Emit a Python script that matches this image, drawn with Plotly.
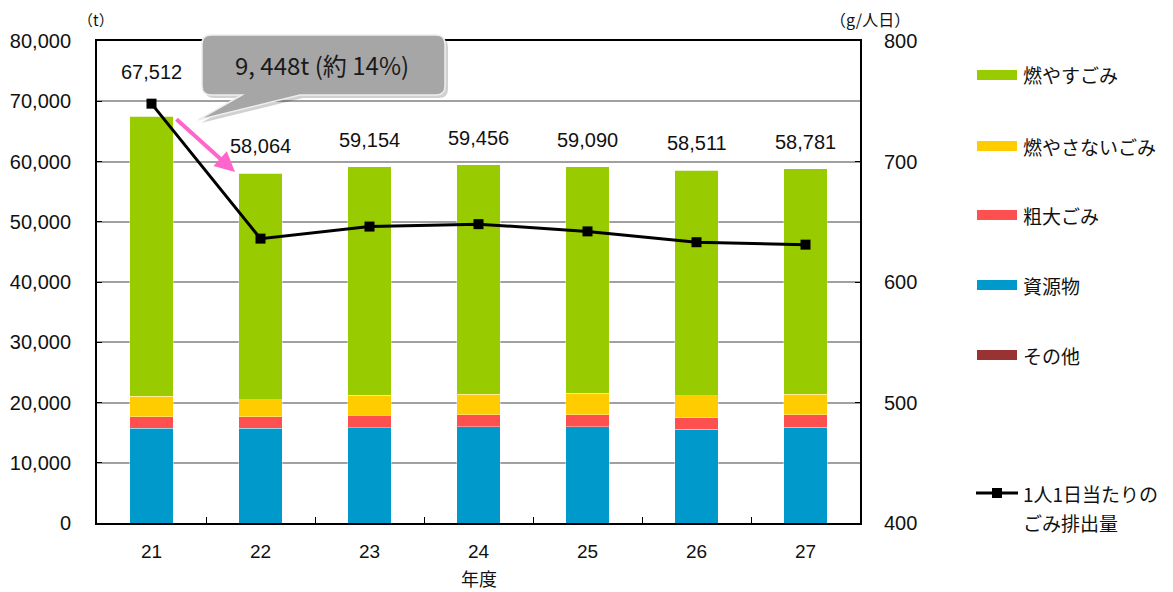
import plotly.graph_objects as go

years = ["21", "22", "23", "24", "25", "26", "27"]
moyasu = [46482, 37594, 37914, 38046, 37570, 37431, 37371]      # 燃やすごみ
moyasanai = [3390, 2830, 3370, 3430, 3540, 3600, 3480]           # 燃やさないごみ
sodai = [1950, 1950, 2070, 1990, 1990, 1930, 2050]                # 粗大ごみ
shigen = [15690, 15690, 15800, 15990, 15990, 15550, 15880]        # 資源物
sonota = [0, 0, 0, 0, 0, 0, 0]                                    # その他
totals = [67512, 58064, 59154, 59456, 59090, 58511, 58781]
total_labels = ["67,512", "58,064", "59,154", "59,456", "59,090", "58,511", "58,781"]
per_person = [748, 636, 646, 648, 642, 633, 631]                 # g/人日

FONT = "Liberation Sans, Arial, Noto Sans CJK JP, sans-serif"
JP = "Noto Sans CJK JP, Liberation Sans, sans-serif"

series = [
    ("資源物", shigen, "#0099cc"),
    ("粗大ごみ", sodai, "#ff5050"),
    ("燃やさないごみ", moyasanai, "#ffcc00"),
    ("燃やすごみ", moyasu, "#99cc00"),
    ("その他", sonota, "#993333"),
]

fig = go.Figure()
for name, vals, col in series:
    fig.add_trace(go.Bar(x=years, y=vals, name=name, marker=dict(color=col, line=dict(color="rgba(255,255,255,0.6)", width=0.6)),
                         showlegend=False))

fig.add_trace(go.Scatter(x=years, y=per_person, yaxis="y2", mode="lines+markers", name="1人1日当たりのごみ排出量",
                         line=dict(color="black", width=3), marker=dict(symbol="square", size=10, color="black"),
                         showlegend=False))

# plot area pixel geometry (page coordinates); the page body adds an 8px offset
OFF = 8
L, R, T, B = 97, 860, 41, 523
W, H = 1173 - OFF, 592 - OFF
def px(x):
    return (x - L) / (R - L)
def py(y):
    return (B - y) / (B - T)

def note(x, y, text, size=16, family=JP, xanchor="center"):
    return dict(x=px(x), y=py(y), xref="paper", yref="paper", text=text, showarrow=False,
                xanchor=xanchor, yanchor="middle", font=dict(family=family, size=size, color="#111111"))

annotations = []
for i, (tot, lab) in enumerate(zip(totals, total_labels)):
    annotations.append(dict(x=i, y=tot, xref="x", yref="y", text=lab, showarrow=False, yanchor="middle",
                            yshift=44 if i == 0 else 27, font=dict(family=FONT, size=20, color="#111111")))

annotations += [
    note(96, 20, "（t）", 15),
    note(870, 19, "（g/人日）", 16),
    note(479, 578, "年度", 18),
    # pink arrow
    dict(x=px(235), y=py(172), xref="paper", yref="paper", ax=-60, ay=-54, axref="pixel", ayref="pixel",
         text="", showarrow=True, arrowhead=2, arrowsize=1.0, arrowwidth=4, arrowcolor="#ff66cc"),
]
callout = note(322, 64, "9, 448t (約 14%)", 24)
callout["font"]["color"] = "#1a1a1a"
annotations.append(callout)

shapes = []
# callout bubble
def bubble(dx=0, dy=0):
    l, r, t, b = 202 + dx, 445 + dx, 35 + dy, 95 + dy
    rx, ry = 9, 9
    p = lambda x, y: f"{px(x):.5f},{py(y):.5f}"
    return ("M " + p(l + rx, t) + " L " + p(r - rx, t) + " Q " + p(r, t) + " " + p(r, t + ry) +
            " L " + p(r, b - ry) + " Q " + p(r, b) + " " + p(r - rx, b) +
            " L " + p(300 + dx, b) + " L " + p(198 + dx, 120 + dy) + " L " + p(242 + dx, b) +
            " L " + p(l + rx, b) + " Q " + p(l, b) + " " + p(l, b - ry) +
            " L " + p(l, t + ry) + " Q " + p(l, t) + " " + p(l + rx, t) + " Z")
shapes.append(dict(type="path", xref="paper", yref="paper", path=bubble(3, 3),
                   fillcolor="rgba(0,0,0,0.18)", line=dict(width=0), layer="above"))
shapes.append(dict(type="path", xref="paper", yref="paper", path=bubble(),
                   fillcolor="#a6a6a6", line=dict(color="#eeeeee", width=1.5), layer="above"))

# manual legend
leg_items = [("燃やすごみ", "#99cc00", 75), ("燃やさないごみ", "#ffcc00", 146), ("粗大ごみ", "#ff5050", 215),
             ("資源物", "#0099cc", 285), ("その他", "#993333", 355)]
for name, col, yy in leg_items:
    shapes.append(dict(type="rect", xref="paper", yref="paper", x0=px(977), x1=px(1017), y0=py(yy + 5), y1=py(yy - 5),
                       fillcolor=col, line=dict(width=0)))
    annotations.append(note(1021, yy, name, 19, xanchor="left"))
shapes.append(dict(type="line", xref="paper", yref="paper", x0=px(976), x1=px(1018), y0=py(493), y1=py(493),
                   line=dict(color="black", width=3)))
shapes.append(dict(type="rect", xref="paper", yref="paper", x0=px(992), x1=px(1002), y0=py(498), y1=py(488),
                   fillcolor="black", line=dict(width=0)))
annotations.append(note(1021, 493, "1人1日当たりの", 19, xanchor="left"))
annotations.append(note(1021, 522, "ごみ排出量", 19, xanchor="left"))

fig.update_layout(
    width=W, height=H,
    margin=dict(l=L - OFF, r=W - (R - OFF), t=T - OFF, b=H - (B - OFF), autoexpand=False),
    barmode="stack", bargap=0.6,
    plot_bgcolor="white", paper_bgcolor="white",
    showlegend=False,
    xaxis=dict(type="category", range=[-0.5, 6.5], automargin=False, showline=True, linecolor="black", linewidth=2,
               mirror=True, ticks="inside", tickson="boundaries", ticklen=6, tickcolor="black", tickangle=0,
               ticklabelstandoff=10,
               tickfont=dict(family=FONT, size=19, color="#111111"), showgrid=False),
    yaxis=dict(range=[0, 80000], dtick=10000, tickformat=",", automargin=False, showline=True, linecolor="black",
               linewidth=2, gridcolor="#a0a0a0", gridwidth=1.5, ticks="inside", ticklen=5, tickcolor="black",
               ticklabelstandoff=20,
               tickfont=dict(family=FONT, size=20, color="#111111"), zeroline=False),
    yaxis2=dict(range=[400, 800], dtick=100, overlaying="y", side="right", automargin=False, showline=True,
                linecolor="black", linewidth=2, showgrid=False, ticks="inside", ticklen=5, tickcolor="black",
                ticklabelstandoff=18,
                tickfont=dict(family=FONT, size=20, color="#111111"), zeroline=False),
    annotations=annotations, shapes=shapes,
)

fig.write_html("out.html")
